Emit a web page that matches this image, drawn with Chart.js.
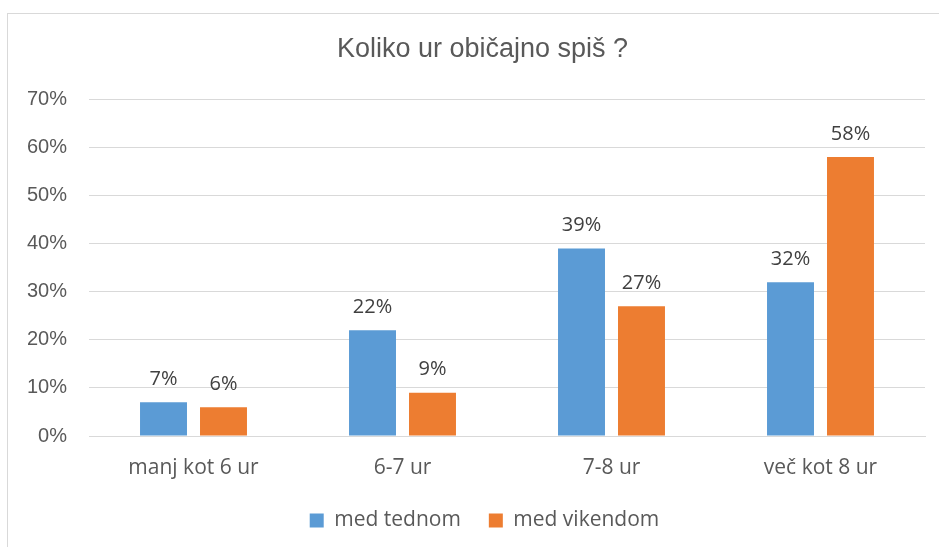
<!DOCTYPE html>
<html>
<head>
<meta charset="utf-8">
<script src="https://cdn.jsdelivr.net/npm/chart.js@4"></script>
<style>
  html, body { margin: 0; padding: 0; background: #fff; overflow: hidden; }
  #wrap { position: relative; width: 939px; height: 547px; }
  #frame { position: absolute; left: 7px; top: 13px; width: 1000px; height: 600px;
           border-left: 1px solid #d9d9d9; border-top: 1px solid #d9d9d9; box-sizing: border-box; }
  canvas { position: absolute; left: 0; top: 0; }
</style>
</head>
<body>
<div id="wrap">
  <div id="frame"></div>
  <canvas id="myChart" width="939" height="547"></canvas>
</div>
<script>
// chart data
var categories = ['manj kot 6 ur', '6-7 ur', '7-8 ur', 'več kot 8 ur'];
var seriesNames = ['med tednom', 'med vikendom'];
var weekday = [7, 22, 39, 32];
var weekend = [6, 9, 27, 58];
var colors = ['#5B9BD5', '#ED7D31'];
var yMax = 70;
var yStep = 10;

var labelFont = '"Open Sans", sans-serif';
var textColor = '#595959';

// draws the value above each bar
var barLabels = {
  id: 'barLabels',
  afterDatasetsDraw: function(chart) {
    var ctx = chart.ctx;
    ctx.save();
    ctx.font = '20px ' + labelFont;
    ctx.fillStyle = '#404040';
    ctx.textAlign = 'center';
    ctx.textBaseline = 'bottom';
    chart.data.datasets.forEach(function(ds, i) {
      var meta = chart.getDatasetMeta(i);
      meta.data.forEach(function(bar, j) {
        ctx.fillText(ds.data[j] + '%', bar.x, bar.y - 13);
      });
    });
    ctx.restore();
  }
};

// nudge title and legend a bit to the right, like the original
var nudgeBoxes = {
  id: 'nudgeBoxes',
  afterLayout: function(chart) {
    [[chart.legend, 22], [chart.titleBlock, 20]].forEach(function(p) {
      if (!p[0]) return;
      p[0].left += p[1];
      p[0].right += p[1];
    });
  }
};

var ctx = document.getElementById('myChart').getContext('2d');
var chart = new Chart(ctx, {
  type: 'bar',
  data: {
    labels: categories,
    datasets: [
      { label: seriesNames[0], data: weekday, backgroundColor: colors[0] },
      { label: seriesNames[1], data: weekend, backgroundColor: colors[1] }
    ]
  },
  options: {
    responsive: false,
    animation: false,
    categoryPercentage: 0.574,
    barPercentage: 0.783,
    layout: { padding: { left: 0, right: 14, top: 0, bottom: 6 } },
    plugins: {
      title: {
        display: true,
        text: 'Koliko ur običajno spiš ?',
        color: textColor,
        font: { family: '"Liberation Sans", Arial, sans-serif', size: 27, weight: 'normal' },
        padding: { top: 33, bottom: 34 }
      },
      legend: {
        position: 'bottom',
        labels: {
          color: textColor,
          font: { family: labelFont, size: 21 },
          boxWidth: 14,
          boxHeight: 14,
          padding: 28
        }
      },
      tooltip: { enabled: false }
    },
    scales: {
      x: {
        grid: { display: false, drawTicks: false },
        border: { display: true, color: '#d9d9d9' },
        ticks: { color: textColor, font: { family: labelFont, size: 21 }, padding: 19 },
        afterFit: function(axis) { axis.height = 46; }
      },
      y: {
        min: 0,
        max: yMax,
        grid: { color: '#d9d9d9', drawTicks: false },
        border: { display: false },
        ticks: {
          stepSize: yStep,
          color: textColor,
          padding: 22,
          font: { family: '"Liberation Sans", Arial, sans-serif', size: 20 },
          callback: function(v) { return v + '%'; }
        },
        afterFit: function(axis) { axis.width = 89; }
      }
    }
  },
  plugins: [barLabels, nudgeBoxes]
});
</script>
</body>
</html>
